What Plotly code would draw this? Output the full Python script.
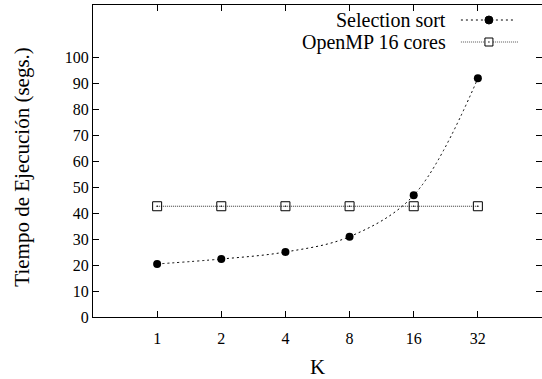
import plotly.graph_objects as go

k_labels = ["1", "2", "4", "8", "16", "32"]
selection_sort = [20.4, 22.3, 25.0, 30.9, 46.8, 91.8]
openmp_16 = [42.6, 42.6, 42.6, 42.6, 42.6, 42.6]
y_ticks = [0, 10, 20, 30, 40, 50, 60, 70, 80, 90, 100]
series_names = ["Selection sort", "OpenMP 16 cores"]
y_title = "Tiempo de Ejecución (segs.)"

positions = list(range(1, len(k_labels) + 1))
FONT = "Liberation Serif"

fig = go.Figure()
fig.add_trace(go.Scatter(
    x=positions, y=openmp_16, mode="lines+markers", name=series_names[1],
    line=dict(color="#333333", width=1, dash="1px,1px"),
    marker=dict(symbol="square-open-dot", size=9, color="black", line=dict(width=1, color="black")),
    showlegend=False,
))
fig.add_trace(go.Scatter(
    x=positions, y=selection_sort, mode="lines+markers", name=series_names[0],
    line=dict(color="black", width=1, dash="2px,3px", shape="spline", smoothing=1.0),
    marker=dict(symbol="circle", size=8, color="black"),
    showlegend=False,
))

# gnuplot-style legend (text on the left, sample on the right)
rows = [(0.9519, series_names[0]), (0.8814, series_names[1])]
text_x, line_x0, line_x1, mark_x = 0.788, 0.8194, 0.9398, 0.8818
shapes = []
annotations = []
for i, (yy, name) in enumerate(rows):
    annotations.append(dict(x=text_x, y=yy, xref="paper", yref="paper", text=name,
                            showarrow=False, xanchor="right", yanchor="middle", borderpad=0,
                            font=dict(family=FONT, size=20, color="black")))
    if i == 0:
        shapes.append(dict(type="line", xref="paper", yref="paper", x0=line_x0, x1=line_x1,
                           y0=yy, y1=yy, line=dict(color="black", width=1, dash="2px,3px")))
        shapes.append(dict(type="circle", xref="paper", yref="paper", xsizemode="pixel",
                           ysizemode="pixel", xanchor=mark_x, yanchor=yy, x0=-4, x1=4, y0=-4, y1=4,
                           fillcolor="black", line=dict(color="black", width=1)))
    else:
        shapes.append(dict(type="line", xref="paper", yref="paper", x0=line_x0, x1=line_x1 + 0.008,
                           y0=yy, y1=yy, line=dict(color="#555555", width=1, dash="1px,1px")))
        shapes.append(dict(type="rect", xref="paper", yref="paper", xsizemode="pixel",
                           ysizemode="pixel", xanchor=mark_x, yanchor=yy, x0=-4, x1=4, y0=-4, y1=4,
                           fillcolor="white", line=dict(color="black", width=1)))
        shapes.append(dict(type="circle", xref="paper", yref="paper", xsizemode="pixel",
                           ysizemode="pixel", xanchor=mark_x, yanchor=yy, x0=-0.7, x1=0.7, y0=-0.7, y1=0.7,
                           fillcolor="black", line=dict(color="black", width=0)))

# y-axis title (placed as rotated text, like gnuplot)
annotations.append(dict(x=-0.158, y=0.482, xref="paper", yref="paper", text=y_title,
                        textangle=-90, showarrow=False, xanchor="center", yanchor="middle",
                        font=dict(family=FONT, size=21, color="black")))

fig.update_layout(
    width=542, height=379,
    margin=dict(l=93, r=0, t=5, b=62, autoexpand=False),
    paper_bgcolor="white", plot_bgcolor="white",
    font=dict(family=FONT, size=16, color="black"),
    shapes=shapes, annotations=annotations,
    xaxis=dict(
        range=[0, 7], tickmode="array", tickvals=positions, ticktext=k_labels,
        ticks="inside", ticklen=6, tickcolor="black", showline=True, linecolor="black",
        linewidth=1, mirror="ticks", showgrid=False, zeroline=False, automargin=False,
        ticklabelstandoff=7,
        title=dict(text="K", font=dict(family=FONT, size=21), standoff=14),
        tickfont=dict(family=FONT, size=16),
    ),
    yaxis=dict(
        range=[0, 120], tickmode="array", tickvals=y_ticks,
        ticks="inside", ticklen=6, tickcolor="black", showline=True, linecolor="black",
        linewidth=1, mirror="ticks", showgrid=False, zeroline=False, automargin=False,
        tickfont=dict(family=FONT, size=16),
    ),
)

fig.write_html("out.html", config={"displayModeBar": False},
               post_script="document.body.style.margin='0';document.body.style.padding='0';")
